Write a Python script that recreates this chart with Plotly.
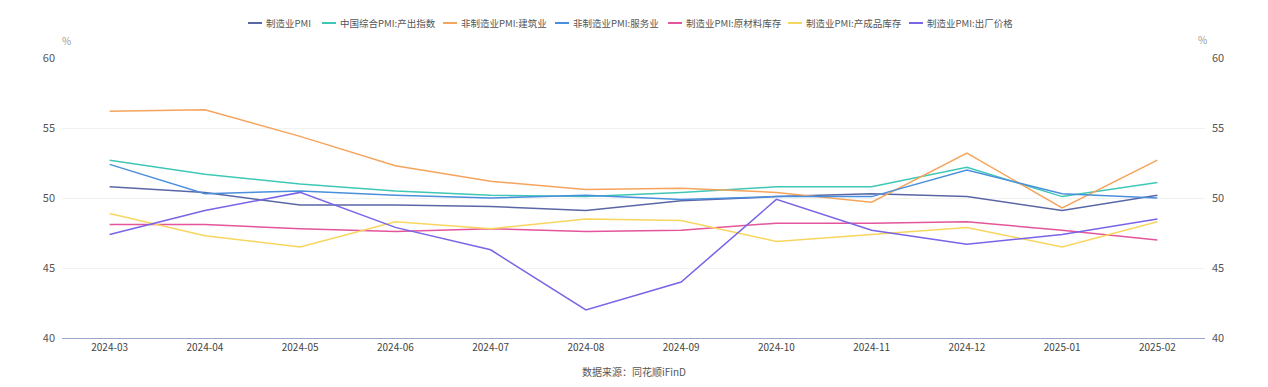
import plotly.graph_objects as go

months = ["2024-03", "2024-04", "2024-05", "2024-06", "2024-07", "2024-08",
          "2024-09", "2024-10", "2024-11", "2024-12", "2025-01", "2025-02"]

mfg_pmi = [50.8, 50.4, 49.5, 49.5, 49.4, 49.1, 49.8, 50.1, 50.3, 50.1, 49.1, 50.2]
composite_output = [52.7, 51.7, 51.0, 50.5, 50.2, 50.1, 50.4, 50.8, 50.8, 52.2, 50.1, 51.1]
construction = [56.2, 56.3, 54.4, 52.3, 51.2, 50.6, 50.7, 50.4, 49.7, 53.2, 49.3, 52.7]
services = [52.4, 50.3, 50.5, 50.2, 50.0, 50.2, 49.9, 50.1, 50.1, 52.0, 50.3, 50.0]
raw_inventory = [48.1, 48.1, 47.8, 47.6, 47.8, 47.6, 47.7, 48.2, 48.2, 48.3, 47.7, 47.0]
finished_inventory = [48.9, 47.3, 46.5, 48.3, 47.8, 48.5, 48.4, 46.9, 47.4, 47.9, 46.5, 48.3]
ex_factory_price = [47.4, 49.1, 50.4, 47.9, 46.3, 42.0, 44.0, 49.9, 47.7, 46.7, 47.4, 48.5]

series_names = ["制造业PMI", "中国综合PMI:产出指数", "非制造业PMI:建筑业", "非制造业PMI:服务业",
                "制造业PMI:原材料库存", "制造业PMI:产成品库存", "制造业PMI:出厂价格"]
series_values = [mfg_pmi, composite_output, construction, services,
                 raw_inventory, finished_inventory, ex_factory_price]
series_colors = ["#5a67a6", "#3fc7b6", "#f5a45c", "#4a8fdc", "#e4559b", "#f8d65e", "#7864e6"]

y_ticks = [40, 45, 50, 55, 60]

font_family = "Noto Sans CJK SC, Noto Sans, sans-serif"

# page body has an 8px default margin; figure is sized so it fills the window
W, H = 1260, 379
ML, MR, MT, MB = 54, 63, 50, 49
plot_w = W - ML - MR
plot_h = H - MT - MB


def px_x(page_x):
    return (page_x - 8 - ML) / plot_w


def px_y(page_y):
    return 1 - (page_y - 8 - MT) / plot_h


fig = go.Figure()
for name, vals, color in zip(series_names, series_values, series_colors):
    fig.add_trace(go.Scatter(
        x=months, y=vals, name=name, mode="lines",
        line=dict(color=color, width=1.5),
        showlegend=False,
        hovertemplate="%{x}<br>" + name + ": %{y}<extra></extra>",
    ))

# invisible trace on secondary axis so right axis shows
fig.add_trace(go.Scatter(x=months, y=mfg_pmi, yaxis="y2", mode="lines",
                         line=dict(width=0, color="rgba(0,0,0,0)"),
                         showlegend=False, hoverinfo="skip"))

fig.update_layout(
    width=W, height=H,
    margin=dict(l=ML, r=MR, t=MT, b=MB, autoexpand=False),
    paper_bgcolor="white", plot_bgcolor="white",
    font=dict(family=font_family, size=11, color="#555555"),
    showlegend=False,
    xaxis=dict(type="category", range=[-0.5, 11.5], showgrid=False,
               showline=True, linecolor="#9ca6cc", linewidth=1,
               ticks="", tickfont=dict(size=10, color="#444444"),
               zeroline=False, fixedrange=True),
    yaxis=dict(range=[40, 60], tickvals=y_ticks, showgrid=True, gridcolor="#f2f2f2",
               gridwidth=1, zeroline=False, showline=False, ticks="",
               tickfont=dict(size=11, color="#555555"), fixedrange=True,
               ticklabelstandoff=6),
    yaxis2=dict(range=[40, 60], tickvals=y_ticks, overlaying="y", side="right",
                showgrid=False, zeroline=False, showline=False, ticks="",
                tickfont=dict(size=11, color="#555555"), fixedrange=True,
                ticklabelstandoff=6),
    hovermode="x unified",
)

# legend row (echarts-style short line samples)
legend_starts = [248, 322, 443, 555, 668, 788, 909]
legend_y = 23
for name, color, sx in zip(series_names, series_colors, legend_starts):
    fig.add_shape(type="line", xref="paper", yref="paper",
                  x0=px_x(sx), x1=px_x(sx + 14), y0=px_y(legend_y), y1=px_y(legend_y),
                  line=dict(color=color, width=2))
    fig.add_annotation(text=name, x=px_x(sx + 16), y=px_y(legend_y), xref="paper",
                       yref="paper", xanchor="left", yanchor="middle", showarrow=False,
                       font=dict(size=9.5, color="#555555"))

fig.add_annotation(text="%", x=px_x(66), y=px_y(40), xref="paper", yref="paper",
                   xanchor="center", yanchor="middle", showarrow=False,
                   font=dict(size=10, color="#999999"))
fig.add_annotation(text="%", x=px_x(1202), y=px_y(39), xref="paper", yref="paper",
                   xanchor="center", yanchor="middle", showarrow=False,
                   font=dict(size=10, color="#999999"))
fig.add_annotation(text="数据来源：同花顺iFinD", x=px_x(634), y=px_y(371),
                   xref="paper", yref="paper", xanchor="center", yanchor="middle",
                   showarrow=False, font=dict(size=10, color="#555555"))

fig.write_html("out.html")
